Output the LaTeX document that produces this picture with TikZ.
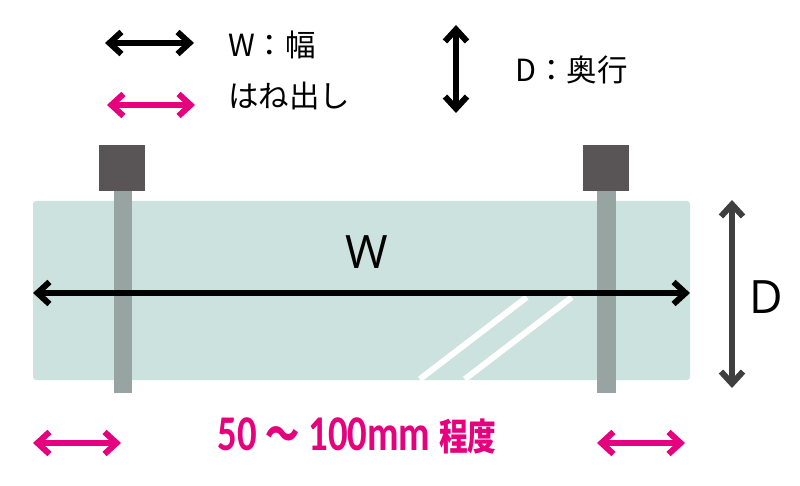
\documentclass[tikz,border=0pt]{standalone}
\usepackage{fontspec}
\usetikzlibrary{arrows.meta}
\setmainfont{Noto Sans CJK JP}
\newfontfamily\dimfont{Open Sans}
\newfontfamily\rangefont{Carlito}
\newfontfamily\rangetilde{Noto Sans CJK JP}
\newfontfamily\rangecjk{Noto Sans CJK JP Bold}
\definecolor{glasscol}{HTML}{CBE2DE}
\definecolor{postcol}{HTML}{97A4A2}
\definecolor{headcol}{HTML}{595556}
\definecolor{pinkcol}{HTML}{E6007E}
\definecolor{darkcol}{HTML}{3F3F3F}

\begin{document}
\begin{tikzpicture}[x=1pt,y=-1pt]
      \tikzstyle{solid box}=[rectangle,draw=none,inner sep=0pt]
      \tikzstyle{glass}=[solid box,fill=glasscol,rounded corners=3pt,minimum width=657pt,minimum height=179pt]
      \tikzstyle{post}=[solid box,fill=postcol,minimum width=18.5pt,minimum height=203pt]
      \tikzstyle{head}=[solid box,fill=headcol,minimum width=46pt,minimum height=46pt]
      \tikzstyle{dim}=[<->,>={Straight Barb[length=12pt,width=22pt,line width=6pt]},line width=6pt]
      \tikzstyle{note}=[inner sep=0pt,anchor=west,font=\fontsize{30.5}{33}\selectfont]
      \useasboundingbox (0,0) rectangle (800,486);
      % glass plate
      \node[glass] (plate) at (361.5,290.5) {};
      \draw[white,line width=6pt] (plate.south west) ++(387,-1) coordinate (sa) -- ++(107,-82) coordinate (sb);
      \draw[white,line width=6pt] (plate.south west) ++(432,-1) coordinate (sc) -- ++(107,-82) coordinate (sd);
      % posts
      \node[post] (postl) at (122.75,291.5) {};
      \node[post] (postr) at (606.25,291.5) {};
      \node[head] (headl) at (122,168) {};
      \node[head] (headr) at (606,168) {};
      % width and depth
      \coordinate (wa) at (33,293);
      \coordinate (wb) at (690,293);
      \draw[dim,black] (wa) -- (wb);
      \coordinate (dt) at (732,200);
      \coordinate (db) at (732,388);
      \draw[dim,darkcol] (dt) -- (db);
      \node[inner sep=0pt,font=\dimfont\fontsize{46}{50}\selectfont] (wlabel) at (367,252) {W};
      \node[inner sep=0pt,font=\dimfont\fontsize{46}{50}\selectfont] (dlabel) at (766,297) {D};
      % key
      \coordinate (kwa) at (105,43);
      \coordinate (kwb) at (194,43);
      \draw[dim,black] (kwa) -- (kwb);
      \coordinate (kpa) at (107,105);
      \coordinate (kpb) at (195,105);
      \draw[dim,pinkcol] (kpa) -- (kpb);
      \coordinate (kda) at (456,25);
      \coordinate (kdb) at (456,113);
      \draw[dim,black] (kda) -- (kdb);
      \node[note] (kw) at (228,45) {W：幅};
      \node[note] (kp) at (228,96) {はね出し};
      \node[note] (kd) at (515,70) {D：奥行};
      % overhang
      \coordinate (oa) at (33,443);
      \coordinate (ob) at (121,443);
      \draw[dim,pinkcol] (oa) -- (ob);
      \coordinate (oc) at (597,443);
      \coordinate (od) at (685,443);
      \draw[dim,pinkcol] (oc) -- (od);
      \node[inner sep=0pt,text=pinkcol] (range) at (357,436) {\scalebox{0.775}[1]{\rangefont\bfseries\fontsize{50}{54}\selectfont 50 {\rangetilde\fontsize{44}{54}\selectfont ～} 100mm {\rangecjk\fontsize{37}{54}\selectfont 程度}}};
\end{tikzpicture}
\end{document}
